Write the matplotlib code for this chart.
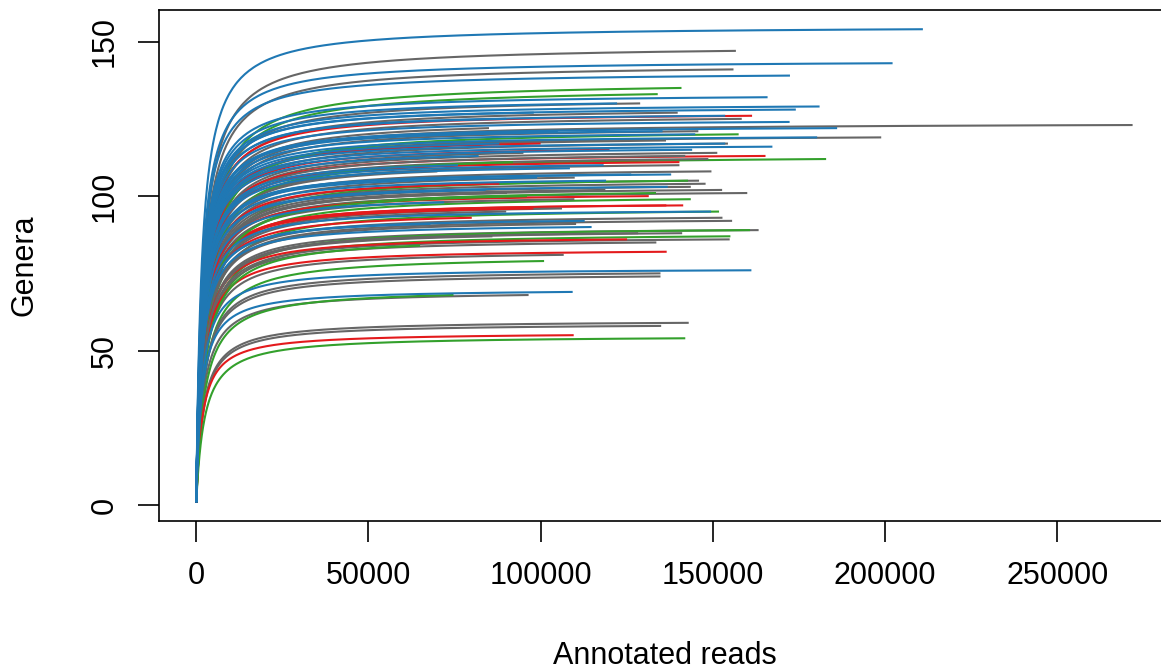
import numpy as np
import matplotlib
matplotlib.use("Agg")
import matplotlib.pyplot as plt

plt.rcParams['font.family'] = ['Liberation Sans', 'DejaVu Sans']

# rarefaction curves: total annotated reads, genera observed at full depth, group
reads = [211000, 156700, 202200, 156000, 172400, 140900, 134000, 165900, 122200, 128900,
         181000, 174100, 139800, 153600, 161400, 158400, 172300, 271900, 186100, 145800,
         135400, 157500, 144900, 180300, 198900, 136400, 154400, 153600, 167300, 144000,
         151300, 165300, 142000, 182900, 148700, 140300, 140300, 118300, 108500, 149600,
         137900, 126300, 109900, 146000, 142800, 119000, 147900, 143600, 136900, 152700,
         118800, 160000, 133500, 90200, 131400, 143600, 109800, 141400, 136500, 106200,
         149500, 151800, 97900, 152800, 155600, 112800, 110300, 114800, 163300, 160800,
         141100, 128300, 155100, 154900, 125100, 133600, 136600, 106700, 101000, 161200,
         134800, 134800, 109300, 96500, 74700, 143000, 135000, 109600, 142000,
         120000, 100000, 98000, 90000, 85000, 105000, 78000, 88000, 95000, 82000,
         92000, 76000, 70000, 99000, 88000, 84000, 96000, 72000, 90000, 80000,
         68000, 86000, 65000]
genera = [154, 147, 143, 141, 139, 135, 133, 132, 130, 130,
          129, 128, 127, 126, 126, 125, 124, 123, 122, 121,
          121, 120, 120, 119, 119, 118, 117, 117, 116, 115,
          114, 113, 113, 112, 112, 111, 110, 110, 109, 108,
          107, 107, 106, 105, 105, 105, 104, 103, 103, 102,
          102, 101, 101, 101, 100, 99, 99, 97, 97, 96,
          95, 95, 96, 93, 92, 92, 91, 90, 89, 89,
          88, 88, 87, 86, 86, 85, 82, 81, 79, 76,
          75, 74, 69, 68, 68, 59, 58, 55, 54,
          115, 117, 127, 125, 122, 121, 118, 117, 114, 113,
          111, 110, 108, 106, 104, 102, 100, 98, 95, 93,
          91, 87, 84]
group = ['B', 'G', 'B', 'G', 'B', 'Gr', 'Gr', 'B', 'B', 'G',
         'B', 'B', 'G', 'B', 'R', 'G', 'B', 'G', 'B', 'G',
         'B', 'Gr', 'B', 'B', 'G', 'G', 'G', 'B', 'B', 'B',
         'G', 'R', 'G', 'Gr', 'G', 'R', 'G', 'B', 'B', 'G',
         'B', 'B', 'G', 'G', 'Gr', 'B', 'G', 'G', 'B', 'G',
         'G', 'G', 'Gr', 'G', 'R', 'Gr', 'G', 'R', 'R', 'G',
         'B', 'Gr', 'R', 'G', 'G', 'B', 'G', 'B', 'G', 'Gr',
         'G', 'G', 'Gr', 'G', 'R', 'G', 'R', 'G', 'Gr', 'B',
         'G', 'G', 'B', 'G', 'Gr', 'G', 'G', 'R', 'Gr',
         'R', 'R', 'B', 'B', 'G', 'B', 'Gr', 'B', 'G', 'B',
         'Gr', 'B', 'G', 'B', 'R', 'B', 'Gr', 'B', 'G', 'R',
         'B', 'G', 'Gr']

colors = {'B': '#1F78B4', 'G': '#666666', 'Gr': '#33A02C', 'R': '#E31A1C'}
# reads needed to reach half of the asymptote, per group
half_sat = {'B': 1600, 'G': 2000, 'Gr': 2400, 'R': 1800}

fig = plt.figure(figsize=(11.61, 6.70), dpi=100)
# plot region runs past the right edge of the picture, as in the original
ax = fig.add_axes([0.1368, 0.2224, 0.871, 0.7622])

order = [i for i in range(len(reads)) if group[i] != 'B'] + \
        [i for i in range(len(reads)) if group[i] == 'B']
for i in order:
    N = reads[i]
    K = half_sat[group[i]]
    n = np.unique(np.concatenate([np.geomspace(1, N, 300), np.linspace(1, N, 200)]))
    s_inf = 1 + (genera[i] - 1) * (N - 1 + K) / (N - 1)
    s = 1 + (s_inf - 1) * (n - 1) / (n - 1 + K)
    ax.plot(n, s, color=colors[group[i]], lw=1.5, solid_capstyle='butt')

xr = max(reads)
ax.set_xlim(-0.04 * xr, 1.04 * xr)
yr = max(genera) - 1
ax.set_ylim(1 - 0.04 * yr, max(genera) + 0.04 * yr)

ax.set_xticks([0, 50000, 100000, 150000, 200000, 250000])
ax.set_xticklabels(['0', '50000', '100000', '150000', '200000', '250000'])
ax.set_yticks([0, 50, 100, 150])
ax.set_yticklabels(['0', '50', '100', '150'], rotation=90, va='center')
ax.tick_params(axis='both', length=15, width=1.2, labelsize=22, colors='black')
ax.tick_params(axis='x', pad=14)
ax.tick_params(axis='y', pad=13)
for sp in ax.spines.values():
    sp.set_linewidth(1.2)

ax.set_xlabel('Annotated reads', fontsize=22, labelpad=36)
ax.set_ylabel('Genera', fontsize=22, labelpad=36)

fig.savefig('out.png', dpi=100)
